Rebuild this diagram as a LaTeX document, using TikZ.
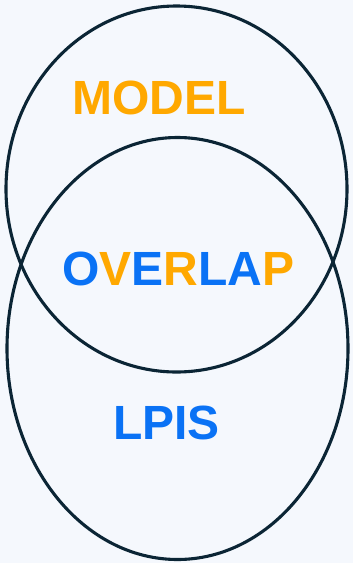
\documentclass[tikz,border=0pt]{standalone}
\usepackage{fontspec}
\setmainfont{Liberation Sans}
\definecolor{bg}{HTML}{F5F8FD}
\definecolor{ring}{HTML}{0B2535}
\definecolor{lblue}{HTML}{0A72F5}
\definecolor{lorange}{HTML}{FFA800}
\tikzset{
  ring/.style={draw=ring, line width=3.1pt},
  lbl/.style={inner sep=0pt, anchor=base, font=\fontsize{48}{48}\selectfont\bfseries}
}
\begin{document}
\begin{tikzpicture}[x=1pt,y=-1pt]
\fill[bg] (0,0) rectangle (353,563);
\useasboundingbox (0,0) rectangle (353,563);
\draw[ring] (176.5,189) ellipse [x radius=170.5, y radius=183];
\draw[ring] (177.5,348.5) ellipse [x radius=170.5, y radius=211];
\node[lbl, text=lorange] (model) at (159,114) {MODEL};
\node[lbl] (overlap) at (178.5,285) {\textcolor{lblue}{O}\textcolor{lorange}{V}\textcolor{lblue}{E}\textcolor{lorange}{R}\textcolor{lblue}{LA}\textcolor{lorange}{P}};
\node[lbl, text=lblue] (lpis) at (166.5,439) {LPIS};
\end{tikzpicture}
\end{document}
